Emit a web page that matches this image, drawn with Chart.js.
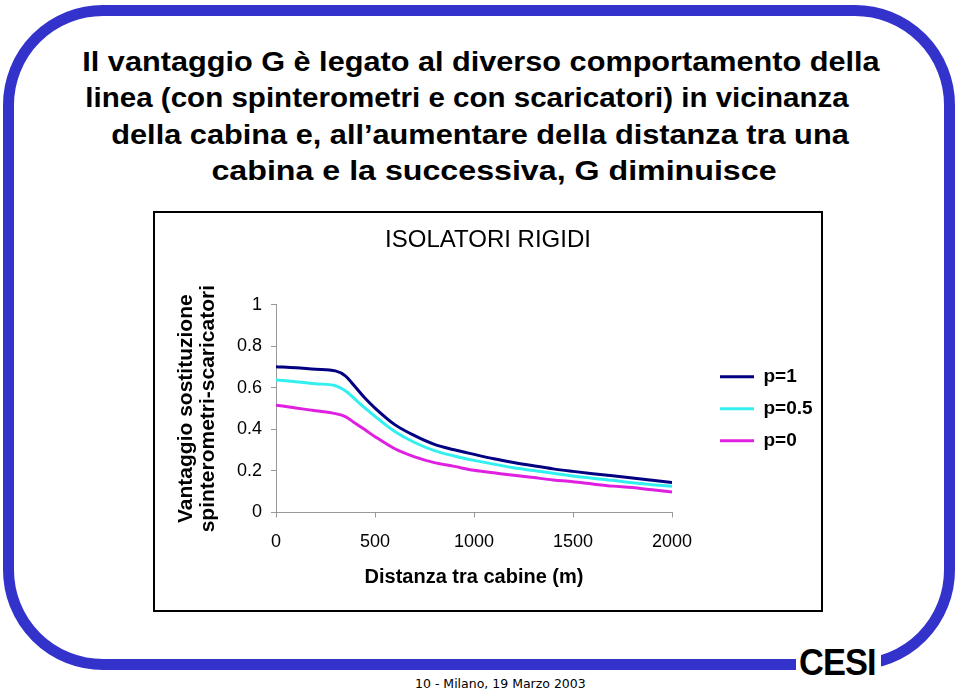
<!doctype html>
<html lang="it">
  <head>
    <meta charset="utf-8">
    <title>ISOLATORI RIGIDI</title>
    <script src="https://cdn.jsdelivr.net/npm/chart.js@4.4.0/dist/chart.umd.min.js"></script>
  </head>

  <style>
    body {
      margin: 0;
      width: 959px;
      height: 694px;
      background-color: #ffffff;
      position: relative;
      overflow: hidden;
      font-family: "Liberation Sans", Arial, sans-serif;
    }
    .frame {
      position: absolute;
      left: 3px;
      top: 5px;
      width: 930px;
      height: 643px;
      border: 11px solid #3333cc;
      border-radius: 100px;
    }
    .line {
      position: absolute;
      width: 900px;
      text-align: center;
      white-space: nowrap;
      font-weight: bold;
      font-size: 28px;
      line-height: 36px;
      color: #000;
      transform-origin: center top;
    }
    .box {
      position: absolute;
      left: 153px;
      top: 211px;
      width: 666px;
      height: 397px;
      border: 2px solid #000;
      background: #fff;
    }
    .logo {
      position: absolute;
      left: 796px;
      top: 648px;
      width: 85px;
      height: 32px;
      background: #fff;
    }
    .logo span {
      position: absolute;
      left: 3px;
      top: -4px;
      font-size: 37px;
      line-height: 37px;
      font-weight: bold;
      letter-spacing: -1px;
      transform: scaleX(0.93);
      transform-origin: left top;
      color: #000;
    }
    .footer {
      position: absolute;
      left: 415px;
      top: 677px;
      font-family: "DejaVu Sans", Verdana, sans-serif;
      font-size: 12.5px;
      line-height: 14px;
      color: #000;
    }
  </style>

  <body>
    <div class="frame"></div>

    <!-- slide title -->
    <div class="line" style="left: 31px; top: 44px; transform: scaleX(1.095);">Il vantaggio G è legato al diverso comportamento della</div>
    <div class="line" style="left: 17px; top: 80px; transform: scaleX(1.055);">linea (con spinterometri e con scaricatori) in vicinanza</div>
    <div class="line" style="left: 30px; top: 117px; transform: scaleX(1.097);">della cabina e, all’aumentare della distanza tra una</div>
    <div class="line" style="left: 44px; top: 153px; transform: scaleX(1.149);">cabina e la successiva, G diminuisce</div>

    <div class="box">
      <canvas id="gChart" width="666" height="397"></canvas>
    </div>

    <div class="logo"><span>CESI</span></div>
    <div class="footer">10 - Milano, 19 Marzo 2003</div>

  <script>
    // distanza tra cabine (m)
    const distanze = [0, 100, 200, 300, 350, 400, 450, 500, 600, 700, 800, 900, 1000,
                      1100, 1200, 1300, 1400, 1500, 1600, 1700, 1800, 1900, 2000];
    // vantaggio G per p=1, p=0.5, p=0
    const gP1 = [0.702, 0.697, 0.69, 0.682, 0.658, 0.605, 0.55, 0.503, 0.423, 0.37, 0.328, 0.302, 0.28,
                 0.259, 0.241, 0.225, 0.21, 0.198, 0.187, 0.177, 0.166, 0.155, 0.145];
    const gP05 = [0.638, 0.63, 0.62, 0.61, 0.586, 0.545, 0.502, 0.463, 0.39, 0.337, 0.298, 0.272, 0.251,
                  0.233, 0.215, 0.202, 0.189, 0.176, 0.165, 0.155, 0.143, 0.134, 0.126];
    const gP0 = [0.517, 0.503, 0.49, 0.476, 0.462, 0.43, 0.398, 0.365, 0.307, 0.268, 0.24, 0.222, 0.203,
                 0.191, 0.179, 0.168, 0.157, 0.148, 0.137, 0.127, 0.12, 0.109, 0.099];
    const serieNomi = ['p=1', 'p=0.5', 'p=0'];
    const serieColori = ['#000080', '#33f0f0', '#e020e0'];
    const xTicks = [0, 500, 1000, 1500, 2000];
    const yTicks = [0, 0.2, 0.4, 0.6, 0.8, 1];

    const FONT = '"Liberation Sans", Arial, sans-serif';

    function pts(vals) {
      return distanze.map(function (d, i) { return {x: d, y: vals[i]}; });
    }

    const serie = [gP1, gP05, gP0];
    const datasets = serie.map(function (vals, i) {
      return {
        label: serieNomi[i],
        data: pts(vals),
        borderColor: serieColori[i],
        backgroundColor: serieColori[i],
        borderWidth: 3,
        pointRadius: 0,
        cubicInterpolationMode: 'monotone',
        fill: false
      };
    });

    // put the legend where the original has it
    const legendPlace = {
      id: 'legendPlace',
      afterLayout(chart) {
        const lg = chart.legend;
        lg.left = 565 - lg.options.labels.padding;
        lg.right = chart.width;
        lg.width = lg.right - lg.left;
      }
    };

    const config = {
      type: 'line',
      data: { datasets: datasets },
      plugins: [legendPlace],
      options: {
        responsive: false,
        animation: false,
        devicePixelRatio: 1,
        layout: { padding: 0 },
        plugins: {
          title: {
            display: true,
            text: 'ISOLATORI RIGIDI',
            color: '#000',
            font: { family: FONT, size: 24, weight: 'normal' },
            padding: { top: 13, bottom: 50 }
          },
          legend: {
            position: 'right',
            fullSize: false,
            labels: {
              usePointStyle: true,
              pointStyle: 'line',
              pointStyleWidth: 34,
              color: '#000',
              padding: 13,
              font: { family: FONT, size: 19, weight: 'bold' }
            }
          },
          tooltip: { enabled: false }
        },
        scales: {
          x: {
            type: 'linear',
            min: 0,
            max: 2000,
            afterBuildTicks(s) { s.ticks = xTicks.map(function (v) { return {value: v}; }); },
            afterFit(s) { s.height = 97.5; s.paddingRight = 149; },
            ticks: {
              color: '#000',
              padding: 14,
              font: { family: FONT, size: 18 },
              callback: function (v) { return String(v); }
            },
            grid: { drawOnChartArea: false, tickLength: 5, color: '#999' },
            border: { color: '#999' },
            title: {
              display: true,
              text: 'Distanza tra cabine (m)',
              color: '#000',
              font: { family: FONT, size: 20, weight: 'bold' },
              padding: { top: 0, bottom: 21 }
            }
          },
          y: {
            min: 0,
            max: 1,
            afterBuildTicks(s) { s.ticks = yTicks.map(function (v) { return {value: v}; }); },
            afterFit(s) { s.width = 121; },
            ticks: {
              color: '#000',
              padding: 9,
              font: { family: FONT, size: 18 },
              callback: function (v) { return String(v); }
            },
            grid: { drawOnChartArea: false, tickLength: 5, color: '#999' },
            border: { color: '#999' },
            title: {
              display: true,
              text: ['Vantaggio sostituzione', 'spinterometri-scaricatori'],
              color: '#000',
              font: { family: FONT, size: 21, weight: 'bold', lineHeight: 1.05 },
              padding: { top: 20, bottom: 0 }
            }
          }
        }
      }
    };

    new Chart(document.getElementById('gChart'), config);
  </script>
  </body>
</html>
